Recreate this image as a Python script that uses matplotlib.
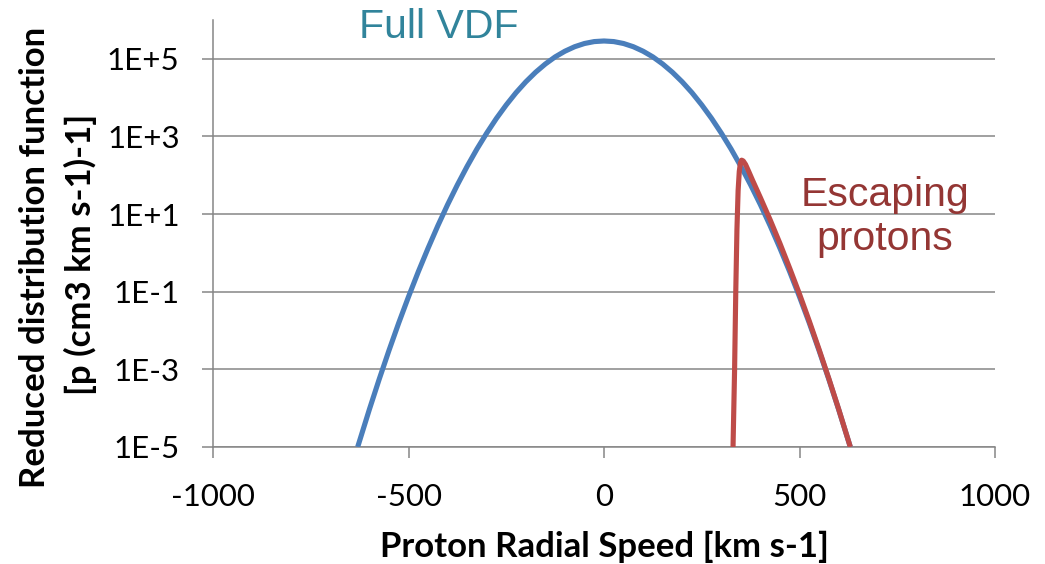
import matplotlib
matplotlib.use("Agg")
import matplotlib.pyplot as plt

# full reduced VDF (km/s, p cm^-3 (km/s)^-1)
full_v = [-630, -600, -575, -550, -525, -500, -475, -450, -425, -400, -375, -350, -325, -300,
          -275, -250, -225, -200, -175, -150, -125, -100, -75, -50, -25, 0,
          25, 50, 75, 100, 125, 150, 175, 200, 225, 250, 275, 300, 325,
          350, 375, 400, 425, 450, 475, 500, 525, 550, 575, 600, 630]
full_f = [1.0e-5, 9.34e-5, 5.55e-4, 3.06e-3, 1.57e-2, 7.41e-2, 0.326, 1.32, 5.0, 17.5, 56.6, 170, 474, 1220,
          2930, 6490, 1.34e4, 2.55e4, 4.50e4, 7.36e4, 1.12e5, 1.57e5, 2.05e5, 2.48e5, 2.78e5, 2.88e5,
          2.78e5, 2.48e5, 2.05e5, 1.57e5, 1.12e5, 7.36e4, 4.50e4, 2.55e4, 1.34e4, 6490, 2930, 1220, 474,
          170, 56.6, 17.5, 5.0, 1.32, 0.326, 7.41e-2, 1.57e-2, 3.06e-3, 5.55e-4, 9.34e-5, 1.0e-5]

# escaping part of the distribution
esc_v = [330, 334, 337, 340, 343, 346, 349, 352, 356, 362, 370, 380, 400, 425, 450, 475,
         500, 525, 550, 575, 600, 630]
esc_f = [1.0e-5, 1.0e-3, 0.1, 4.0, 40, 126, 209, 245, 234, 190, 126, 74, 26.5, 7.07, 1.75, 0.40,
         0.087, 0.0175, 3.28e-3, 5.8e-4, 9.55e-5, 1.0e-5]

x_ticks = [-1000, -500, 0, 500, 1000]
y_ticks = [1e-5, 1e-3, 1e-1, 1e1, 1e3, 1e5]
y_labels = ["1E-5", "1E-3", "1E-1", "1E+1", "1E+3", "1E+5"]

grey = "#868686"
tick_font = "Lato"

fig = plt.figure(figsize=(10.45, 5.64), dpi=100)
ax = fig.add_axes([213 / 1045, 1 - 447 / 564, (995 - 213) / 1045, (447 - 20) / 564])

ax.plot(full_v, full_f, color="#4A7EBB", lw=3.7, solid_capstyle="butt",
        solid_joinstyle="round", zorder=3)
ax.plot(esc_v, esc_f, color="#BE4B48", lw=3.7, solid_capstyle="butt",
        solid_joinstyle="round", zorder=4)

ax.set_yscale("log")
ax.set_xlim(-1000, 1000)
ax.set_ylim(1e-5, 1e6)
ax.set_xticks(x_ticks)
ax.set_xticklabels([str(t) for t in x_ticks], fontfamily=tick_font, fontsize=22.5)
ax.set_yticks(y_ticks)
ax.set_yticklabels(y_labels, fontfamily=tick_font, fontsize=22.5)
ax.yaxis.set_minor_locator(matplotlib.ticker.NullLocator())

ax.grid(axis="y", color=grey, lw=1.1)
ax.set_axisbelow(True)
for side in ["top", "right"]:
    ax.spines[side].set_visible(False)
for side in ["left", "bottom"]:
    ax.spines[side].set_color(grey)
    ax.spines[side].set_linewidth(1.1)
ax.tick_params(axis="y", direction="out", length=8, width=1.1, color=grey, pad=16)
ax.tick_params(axis="x", direction="out", length=8, width=1.1, color=grey, pad=18)

fig.text(605 / 1045, 1 - 547 / 564, "Proton Radial Speed [km s-1]", ha="center", va="center",
         fontfamily=tick_font, fontweight="bold", fontsize=25)
fig.text(35 / 1045, 1 - 257 / 564, "Reduced distribution function", rotation=90, ha="center",
         va="center", fontfamily=tick_font, fontweight="bold", fontsize=25)
fig.text(80 / 1045, 1 - 254 / 564, "[p (cm3 km s-1)-1]", rotation=90, ha="center",
         va="center", fontfamily=tick_font, fontweight="bold", fontsize=25)

ax.text(-626, 3.5e5, "Full VDF", color="#31849B", fontfamily="Liberation Sans", fontsize=29.5,
        ha="left", va="baseline")
ax.text(718, 16, "Escaping", color="#943634", fontfamily="Liberation Sans", fontsize=29.5,
        ha="center", va="baseline")
ax.text(718, 1.22, "protons", color="#943634", fontfamily="Liberation Sans", fontsize=29.5,
        ha="center", va="baseline")

fig.savefig("out.png", dpi=100)
